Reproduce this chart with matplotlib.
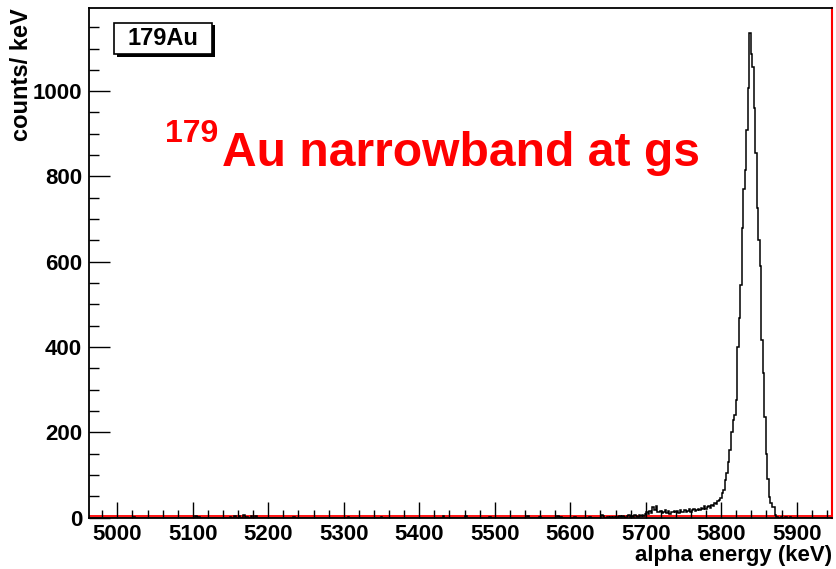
import numpy as np
import matplotlib
matplotlib.use("Agg")
import matplotlib.pyplot as plt
from matplotlib.patches import Rectangle
from matplotlib.ticker import MultipleLocator
import matplotlib.transforms as mtransforms

plt.rcParams['font.family'] = ['Liberation Sans', 'DejaVu Sans']
plt.rcParams['font.weight'] = 'bold'

# 2 keV bins
bin_width = 2
e_lo, e_hi = 4961, 5949

# low-energy tail, one value per bin starting at tail_start
tail_start = 5661
tail_counts = [2, 0, 3, 1, 4, 2, 0, 3, 5, 2, 4, 1, 6, 3, 2, 5, 4, 7, 3,
               8, 12, 9, 15, 11, 24, 18, 26, 14, 12, 16, 10, 13, 17, 11, 15, 9, 14, 12, 16, 13,
               15, 11, 17, 14, 12, 18, 13, 16, 19, 14, 17, 21, 15, 18, 20,
               18, 22, 20, 26, 19, 24, 28, 22, 30, 27, 35, 32, 38]

# the ground state peak
peak_start = 5797
peak_counts = [40, 45, 57, 64, 88, 104, 130, 158, 201, 228, 240, 275, 400, 467,
               545, 678, 770, 815, 909, 1007, 1137, 1088, 1057, 960, 854, 725,
               650, 590, 416, 338, 236, 150, 91, 48, 33, 25, 25, 6, 2]

# scattered background counts
bg_energy = [5021, 5103, 5107, 5149, 5155, 5161, 5167, 5171, 5177, 5183, 5233,
             5305, 5349, 5431, 5461, 5493, 5543, 5559, 5583, 5587, 5605, 5625,
             5641, 5643, 5649, 5653, 5657, 5879, 5885, 5891]
bg_counts = [1, 3, 2, 2, 4, 3, 5, 2, 4, 3, 1, 2, 1, 3, 4, 1, 3, 2, 3, 2, 1, 2,
             5, 3, 2, 1, 2, 2, 1, 1]

edges = np.arange(e_lo, e_hi + bin_width, bin_width)
counts = np.zeros(len(edges) - 1)

def fill(start, values):
    i0 = (start - e_lo) // bin_width
    counts[i0:i0 + len(values)] = values

fill(tail_start, tail_counts)
fill(peak_start, peak_counts)
for e, c in zip(bg_energy, bg_counts):
    counts[(e - e_lo) // bin_width] = c

W, H = 837, 569
fig = plt.figure(figsize=(W / 100, H / 100), dpi=100)
ax = fig.add_axes([89 / W, 1 - 517.5 / H, (832 - 89) / W, (517.5 - 8) / H])

# red frame line just above the x axis
red_off = mtransforms.offset_copy(ax.transData, fig=fig, x=0, y=1.2, units='dots')
ax.plot([4900, 6000], [0, 0], color='red', lw=1.3, transform=red_off, zorder=1)

ax.stairs(counts, edges, color='black', lw=1.1, zorder=3)

ax.set_xlim(4962.5, 5946.8)
ax.set_ylim(0, 1195)

ax.xaxis.set_major_locator(MultipleLocator(100))
ax.xaxis.set_minor_locator(MultipleLocator(20))
ax.yaxis.set_major_locator(MultipleLocator(200))
ax.yaxis.set_minor_locator(MultipleLocator(50))

ax.tick_params(axis='x', which='major', direction='in', length=11.5, width=1, labelsize=16, pad=5)
ax.tick_params(axis='x', which='minor', direction='in', length=6, width=1)
ax.tick_params(axis='y', which='major', direction='in', length=15, width=1, labelsize=16, pad=5)
ax.tick_params(axis='y', which='minor', direction='in', length=7.5, width=1)
for lab in ax.get_xticklabels() + ax.get_yticklabels():
    lab.set_fontweight('bold')

ax.spines['left'].set_linewidth(1.3)
ax.spines['top'].set_linewidth(1.3)
ax.spines['bottom'].set_linewidth(1.3)
ax.spines['right'].set_color('red')
ax.spines['right'].set_linewidth(1.5)

ax.set_xlabel('alpha energy (keV)', loc='right', fontsize=16, fontweight='bold', labelpad=0)
ax.set_ylabel('counts/ keV', loc='top', fontsize=17, fontweight='bold', labelpad=0)

# histogram name box with shadow
x0, y0, bw, bh = 114 / W, 1 - 54 / H, 98 / W, 31 / H
fig.patches.append(Rectangle((x0 + 2.5 / W, y0 - 2.5 / H), bw, bh, transform=fig.transFigure,
                             facecolor='black', edgecolor='black', lw=0))
fig.patches.append(Rectangle((x0, y0), bw, bh, transform=fig.transFigure,
                             facecolor='white', edgecolor='black', lw=1.2))
fig.text(x0 + bw / 2, y0 + bh / 2, '179Au', fontsize=17, fontweight='bold',
         ha='center', va='center')

# annotation
fig.text(165 / W, 1 - 142 / H, '179', color='red', fontsize=23, fontweight='bold',
         ha='left', va='baseline')
fig.text(222 / W, 1 - 166 / H, 'Au narrowband at gs', color='red', fontsize=34.6,
         fontweight='bold', ha='left', va='baseline')

fig.savefig('out.png', dpi=100)
